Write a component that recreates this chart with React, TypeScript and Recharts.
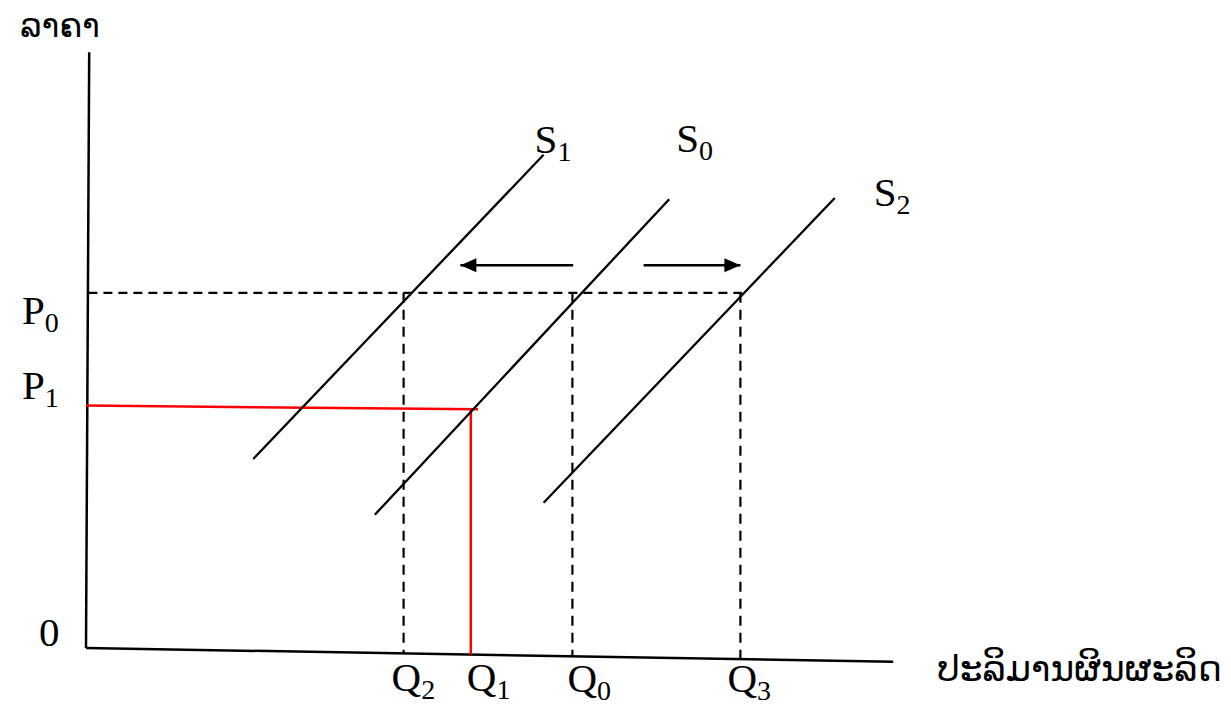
import React from "react";
import { ComposedChart, Line, Scatter, XAxis, YAxis } from "recharts";

const W = 1231;
const H = 707;
// where quantity 0 / price 0 sits on the page and px per unit
const ORIGIN_X = 86;
const ORIGIN_Y = 648;
const PX_Q = 8;
const PX_P = 6;

// price levels (P0, P1)
const priceNames = ["0", "1"];
const priceLevels = [59.2, 40.2];

// quantity levels (Q2, Q1, Q0, Q3) and where each drop line meets the tilted axis
const quantityNames = ["2", "1", "0", "3"];
const quantityLevels = [39.7, 48.1, 60.8, 81.8];
const quantityFloor = [-0.9, -1.1, -1.4, -1.8];

// supply curves S1, S0, S2: [q, p] at low end and high end
const supplyNames = ["1", "0", "2"];
const supplyLow = [[20.9, 31.5], [36.1, 22.2], [57.2, 24.2]];
const supplyHigh = [[57.2, 82.2], [72.9, 74.8], [93.6, 75.0]];

// hand drawn axes
const yAxisLine = [[0, 0], [0.4, 99.3]];
const xAxisLine = [[0, 0], [100.9, -2.3]];

// red P1 / Q1 lines
const p1Line = [[0, 40.4], [49.0, 39.8]];
const q1Line = [[48.1, 40.0], [48.1, -1.1]];

// P0 dashed guide
const p0Line = [[0.3, 59.2], [82.0, 59.2]];

// shift arrows (from, to) at price 63.8
const arrowPrice = 63.8;
const arrowFrom = [60.9, 69.7];
const arrowTo = [46.8, 81.8];

const priceTitle = "ລາຄາ";
const quantityTitle = "ປະລິມານຜິນຜະລິດ";

// pixel offsets of the labels from their anchors
const OFFSET: Record<string, [number, number]> = {
  P0: [-64, 31],
  P1: [-64, -8],
  Q2: [-12, 43],
  Q1: [-4, 43],
  Q0: [-5, 44],
  Q3: [-13, 44],
  S1: [-9, -2],
  S0: [7, -47],
  S2: [39, 8],
  origin: [-47, -2],
  yTitle: [-69, -15],
  xTitle: [44, 19],
};

const seg = (a: number[], b: number[]) => [
  { x: a[0], y: a[1] },
  { x: b[0], y: b[1] },
];

const labels = [
  ...priceNames.map((n, i) => ({ x: 0, y: priceLevels[i], main: "P", sub: n, id: "P" + n })),
  ...quantityNames.map((n, i) => ({ x: quantityLevels[i], y: 0, main: "Q", sub: n, id: "Q" + n })),
  ...supplyNames.map((n, i) => ({ x: supplyHigh[i][0], y: supplyHigh[i][1], main: "S", sub: n, id: "S" + n })),
  { x: 0, y: 0, main: "0", sub: "", id: "origin" },
  { x: yAxisLine[1][0], y: yAxisLine[1][1], main: priceTitle, sub: "", id: "yTitle", lao: 33 },
  { x: xAxisLine[1][0], y: xAxisLine[1][1], main: quantityTitle, sub: "", id: "xTitle", lao: 36 },
];

const SERIF = "'Liberation Serif', 'Times New Roman', serif";
const LAO = "'DejaVu Sans', 'Noto Sans', sans-serif";

const LabelShape = (props: any) => {
  const { cx, cy, payload } = props;
  const [dx, dy] = OFFSET[payload.id];
  if (payload.lao) {
    return (
      <text x={cx + dx} y={cy + dy} fontFamily={LAO} fontSize={payload.lao} fill="#000">
        {payload.main}
      </text>
    );
  }
  return (
    <text x={cx + dx} y={cy + dy} fontFamily={SERIF} fontSize={41} fill="#000">
      {payload.main}
      {payload.sub && (
        <tspan fontSize={28} dy={8}>
          {payload.sub}
        </tspan>
      )}
    </text>
  );
};

const ArrowHead = (props: any) => {
  const { cx, cy, index, payload } = props;
  if (index !== 1) return <g key={"a" + index} />;
  const d = payload.dir;
  const pts = `${cx},${cy} ${cx - d * 16},${cy - 7} ${cx - d * 16},${cy + 7}`;
  return <polygon key={"a" + index} points={pts} fill="#000" />;
};

export default function App() {
  const xDomain = [-ORIGIN_X / PX_Q, (W - ORIGIN_X) / PX_Q];
  const yDomain = [-(H - ORIGIN_Y) / PX_P, ORIGIN_Y / PX_P];
  return (
    <div style={{ position: "absolute", left: 0, top: 0, width: W, height: H, background: "#fff" }}>
      <ComposedChart width={W} height={H} margin={{ top: 0, right: 0, bottom: 0, left: 0 }}>
        <XAxis type="number" dataKey="x" domain={xDomain} hide allowDataOverflow />
        <YAxis type="number" dataKey="y" domain={yDomain} hide allowDataOverflow />

        <Line data={seg(yAxisLine[0], yAxisLine[1])} dataKey="y" stroke="#000" strokeWidth={2.5} dot={false} activeDot={false} isAnimationActive={false} />
        <Line data={seg(xAxisLine[0], xAxisLine[1])} dataKey="y" stroke="#000" strokeWidth={2.5} dot={false} activeDot={false} isAnimationActive={false} />

        <Line data={seg(p0Line[0], p0Line[1])} dataKey="y" stroke="#000" strokeWidth={2.2} strokeDasharray="9 6" dot={false} activeDot={false} isAnimationActive={false} />
        {quantityLevels.map((q, i) =>
          quantityNames[i] === "1" ? null : (
            <Line key={"q" + i} data={seg([q, priceLevels[0]], [q, quantityFloor[i]])} dataKey="y" stroke="#000" strokeWidth={2.2} strokeDasharray="10 7" dot={false} activeDot={false} isAnimationActive={false} />
          )
        )}

        <Line data={seg(p1Line[0], p1Line[1])} dataKey="y" stroke="#ff0000" strokeWidth={2.5} dot={false} activeDot={false} isAnimationActive={false} />
        <Line data={seg(q1Line[0], q1Line[1])} dataKey="y" stroke="#ff0000" strokeWidth={2.5} dot={false} activeDot={false} isAnimationActive={false} />

        {supplyNames.map((n, i) => (
          <Line key={"s" + n} data={seg(supplyLow[i], supplyHigh[i])} dataKey="y" stroke="#000" strokeWidth={2.3} dot={false} activeDot={false} isAnimationActive={false} />
        ))}

        {arrowFrom.map((f, i) => (
          <Line
            key={"arr" + i}
            data={[
              { x: f, y: arrowPrice, dir: Math.sign(arrowTo[i] - f) },
              { x: arrowTo[i], y: arrowPrice, dir: Math.sign(arrowTo[i] - f) },
            ]}
            dataKey="y"
            stroke="#000"
            strokeWidth={2.5}
            dot={ArrowHead}
            activeDot={false}
            isAnimationActive={false}
          />
        ))}

        <Scatter data={labels} dataKey="y" shape={LabelShape} isAnimationActive={false} />
      </ComposedChart>
    </div>
  );
}
